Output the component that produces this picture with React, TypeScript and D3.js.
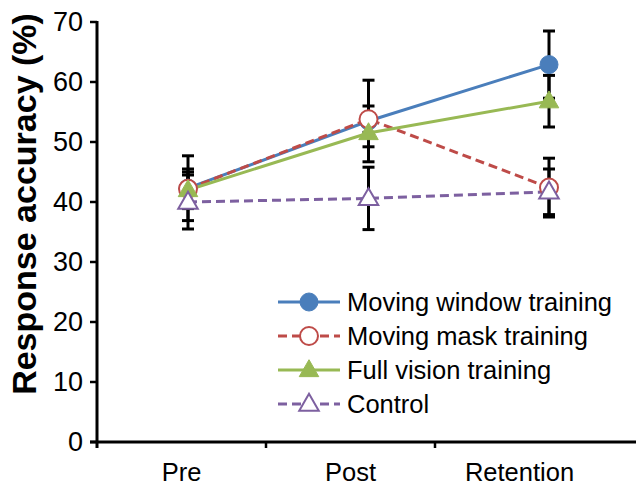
import React, { useEffect, useRef } from "react";
import * as d3 from "d3";

const categories = ["Pre", "Post", "Retention"];
const seriesNames = ["Moving window training", "Moving mask training", "Full vision training", "Control"];
const movingWindow = [42.3, 53.5, 62.9];
const movingWindowErr = [5.4, 6.8, 5.6];
const movingMask = [42.2, 53.8, 42.4];
const movingMaskErr = [3.3, 2.2, 4.9];
const fullVision = [42.0, 51.5, 56.8];
const fullVisionErr = [3.0, 2.3, 4.3];
const control = [40.0, 40.6, 41.7];
const controlErr = [4.5, 5.2, 3.8];
const yTicks = [0, 10, 20, 30, 40, 50, 60, 70];

const W = 636, H = 486;

export default function App() {
  const ref = useRef<SVGSVGElement>(null);
  useEffect(() => {
    const svg = d3.select(ref.current);
    svg.selectAll("*").remove();
    const font = "'Liberation Sans', Arial, sans-serif";
    const fs = 25.5;
    const x0 = 97, yTop = 22, yBot = 442;
    // axis categories (labels between tick marks)
    const x = d3.scaleBand().domain(categories).range([x0, 604]);
    // data point positions
    const xp = d3.scalePoint().domain(categories).range([188, 549]);
    const y = d3.scaleLinear().domain([0, 70]).range([yBot, yTop]);
    const cx = (c: string) => xp(c) as number;

    const series = [
      { name: seriesNames[0], vals: movingWindow, err: movingWindowErr, color: "#4A7EBB", dash: null, marker: "circle", fill: true },
      { name: seriesNames[1], vals: movingMask, err: movingMaskErr, color: "#BE4B48", dash: "9,5", marker: "circle", fill: false },
      { name: seriesNames[2], vals: fullVision, err: fullVisionErr, color: "#98B954", dash: null, marker: "triangle", fill: true },
      { name: seriesNames[3], vals: control, err: controlErr, color: "#7D60A0", dash: "9,5", marker: "triangle", fill: false },
    ];

    const g = svg.append("g");
    g.append("line").attr("x1", x0).attr("x2", x0).attr("y1", yTop - 1).attr("y2", yBot + 6).attr("stroke", "#000").attr("stroke-width", 3);
    g.append("line").attr("x1", x0 - 7).attr("x2", W).attr("y1", yBot).attr("y2", yBot).attr("stroke", "#000").attr("stroke-width", 3);
    yTicks.forEach(t => {
      g.append("line").attr("x1", x0 - 7).attr("x2", x0).attr("y1", y(t)).attr("y2", y(t)).attr("stroke", "#000").attr("stroke-width", 2.5);
      g.append("text").attr("x", x0 - 14).attr("y", y(t)).attr("dy", "0.35em").attr("text-anchor", "end")
        .attr("font-family", font).attr("font-size", 27).attr("fill", "#000").text(t);
    });
    categories.forEach((c, i) => {
      if (i > 0) {
        g.append("line").attr("x1", x(c) as number).attr("x2", x(c) as number).attr("y1", yBot).attr("y2", yBot + 6).attr("stroke", "#000").attr("stroke-width", 2.5);
      }
      g.append("text").attr("x", (x(c) as number) + x.bandwidth() / 2).attr("y", 481).attr("text-anchor", "middle")
        .attr("font-family", font).attr("font-size", fs).attr("fill", "#000").text(c);
    });
    g.append("text").attr("transform", `translate(36,204) rotate(-90)`).attr("text-anchor", "middle")
      .attr("font-family", font).attr("font-size", 34).attr("font-weight", "bold").attr("fill", "#000").text("Response accuracy (%)");

    series.forEach(s => {
      categories.forEach((c, i) => {
        const px = cx(c), hi = y(s.vals[i] + s.err[i]), lo = y(s.vals[i] - s.err[i]);
        g.append("line").attr("x1", px).attr("x2", px).attr("y1", hi).attr("y2", lo).attr("stroke", "#000").attr("stroke-width", 3);
        [hi, lo].forEach(v => g.append("line").attr("x1", px - 6).attr("x2", px + 6).attr("y1", v).attr("y2", v).attr("stroke", "#000").attr("stroke-width", 3));
      });
    });

    const line = d3.line<number>().x((_, i) => cx(categories[i])).y(d => y(d));
    series.forEach(s => {
      g.append("path").attr("d", line(s.vals) as string).attr("fill", "none").attr("stroke", s.color).attr("stroke-width", 3)
        .attr("stroke-dasharray", s.dash as any);
    });

    const drawMarker = (s: any, px: number, py: number) => {
      if (s.marker === "circle") {
        g.append("circle").attr("cx", px).attr("cy", py).attr("r", 9)
          .attr("fill", s.fill ? s.color : "#fff").attr("stroke", s.color).attr("stroke-width", s.fill ? 1 : 2);
      } else {
        const sym = d3.symbol().type(d3.symbolTriangle).size(165);
        g.append("path").attr("d", sym() as string).attr("transform", `translate(${px},${py + 1})`)
          .attr("fill", s.fill ? s.color : "#fff").attr("stroke", s.color).attr("stroke-width", s.fill ? 1 : 2);
      }
    };
    series.forEach(s => {
      categories.forEach((c, i) => drawMarker(s, cx(c), y(s.vals[i])));
    });

    const lx0 = 278, lx1 = 340, tx = 347;
    const rows = [302, 336, 370, 404];
    series.forEach((s, i) => {
      const ly = rows[i];
      g.append("line").attr("x1", lx0).attr("x2", lx1).attr("y1", ly).attr("y2", ly).attr("stroke", s.color).attr("stroke-width", 3)
        .attr("stroke-dasharray", s.dash as any);
      drawMarker(s, (lx0 + lx1) / 2, ly);
      g.append("text").attr("x", tx).attr("y", ly).attr("dy", "0.35em").attr("font-family", font).attr("font-size", fs).attr("fill", "#000").text(s.name);
    });
  }, []);
  return <svg ref={ref} width={W} height={H} style={{ position: "absolute", left: 0, top: 0, background: "#fff" }} />;
}
